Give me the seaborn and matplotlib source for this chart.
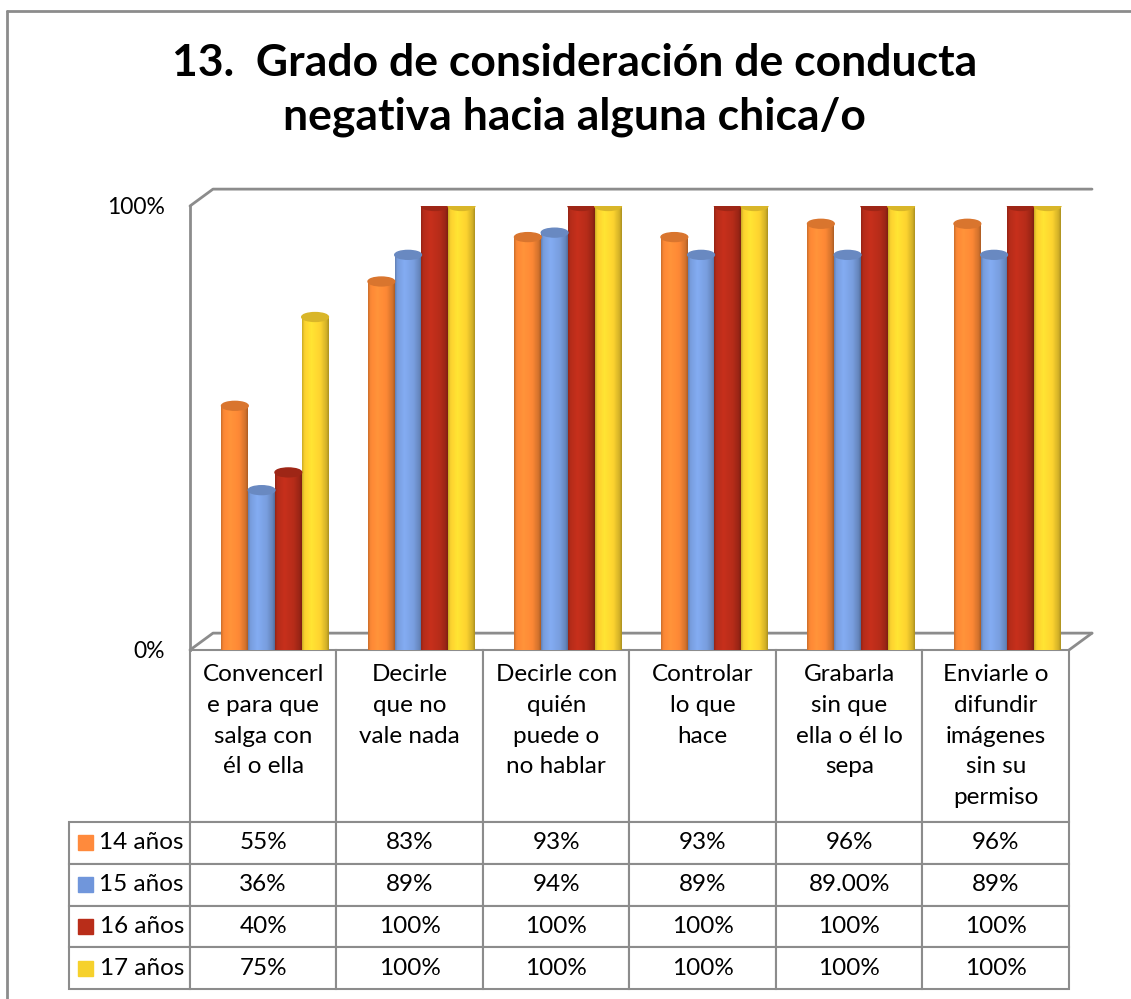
import numpy as np
import pandas as pd
import matplotlib
matplotlib.use("Agg")
import matplotlib.pyplot as plt
import seaborn as sns
from matplotlib.patches import Ellipse, Rectangle
from matplotlib.lines import Line2D
from matplotlib.table import Table

# data
categories = [
    "Convencerl\ne para que\nsalga con\nél o ella",
    "Decirle\nque no\nvale nada",
    "Decirle con\nquién\npuede o\nno hablar",
    "Controlar\nlo que\nhace",
    "Grabarla\nsin que\nella o él lo\nsepa",
    "Enviarle o\ndifundir\nimágenes\nsin su\npermiso",
]
ages = ["14 años", "15 años", "16 años", "17 años"]
v14 = [0.55, 0.83, 0.93, 0.93, 0.96, 0.96]
v15 = [0.36, 0.89, 0.94, 0.89, 0.89, 0.89]
v16 = [0.40, 1.00, 1.00, 1.00, 1.00, 1.00]
v17 = [0.75, 1.00, 1.00, 1.00, 1.00, 1.00]
t14 = ["55%", "83%", "93%", "93%", "96%", "96%"]
t15 = ["36%", "89%", "94%", "89%", "89.00%", "89%"]
t16 = ["40%", "100%", "100%", "100%", "100%", "100%"]
t17 = ["75%", "100%", "100%", "100%", "100%", "100%"]

bar_colors = ["#FF8A36", "#7BA1E3", "#BA2D1A", "#FFD630"]
key_colors = ["#FF8A3C", "#7096DB", "#B92D19", "#F6D12C"]
grey = "#8C8C8C"

sns.set_theme(style="white")
plt.rcParams["font.family"] = ["Lato", "DejaVu Sans"]
plt.rcParams["text.color"] = "black"

W, H = 1131, 999
fig = plt.figure(figsize=(W / 100, H / 100), dpi=100)
ax = fig.add_axes([190 / W, 1 - 650 / H, 879 / W, 444 / H])

df = pd.DataFrame({
    "categoria": np.tile(categories, 4),
    "edad": np.repeat(ages, 6),
    "valor": v14 + v15 + v16 + v17,
})
sns.barplot(data=df, x="categoria", y="valor", hue="edad", order=categories,
            hue_order=ages, palette=bar_colors, width=0.73, gap=0,
            saturation=1, linewidth=0, legend=False, ax=ax)

# cylinder-like shading on each bar
bars = list(ax.patches)
t = np.linspace(0, 1, 60)
prof = np.interp(t, [0, 0.08, 0.35, 0.7, 0.92, 1], [0.8, 0.97, 1.07, 0.98, 0.82, 0.68])
for b in bars:
    x0, w, h = b.get_x(), b.get_width(), b.get_height()
    col = np.array(b.get_facecolor()[:3])
    img = np.clip(col[None, None, :] * prof[None, :, None], 0, 1)
    ax.imshow(img, extent=(x0, x0 + w, 0, h), aspect="auto", zorder=2,
              interpolation="bilinear")
    ax.add_patch(Ellipse((x0 + w / 2, h), w, 0.02, color=np.clip(col * 0.85, 0, 1), zorder=3))

ax.set_xlim(-0.58, 5.42)
ax.set_ylim(0, 1)
ax.set_xlabel("")
ax.set_ylabel("")
ax.set_xticks([])
ax.set_yticks([0, 1])
ax.set_yticklabels(["0%", "100%"])
ax.tick_params(axis="y", length=0, pad=18, labelsize=16.5, labelcolor="black")
for s in ["top", "right", "bottom"]:
    ax.spines[s].set_visible(False)
ax.spines["left"].set_color(grey)
ax.spines["left"].set_linewidth(2)

# 3d box lines
dx, dy = 23 / 879, 0.038
kw = dict(transform=ax.transAxes, clip_on=False, color=grey, lw=2, zorder=0.5)
ax.plot([0, dx, 1 + dx], [1, 1 + dy, 1 + dy], **kw)
ax.plot([0, dx, 1 + dx], [0, dy, dy], **kw)
ax.plot([1, 1 + dx], [0, dy], **kw)

# data table: column 0 holds the series names
nmax = max(c.count("\n") for c in categories)
headers = [c + "\n" * (nmax - c.count("\n")) for c in categories]
rows = [t14, t15, t16, t17]
tab = Table(ax, bbox=[(69 - 190) / 879, -(989 - 650) / 444, (1069 - 69) / 879, 339 / 444])
label_w, col_w, head_h, row_h = 121, 146.5, 171, 41.5
hc = tab.add_cell(0, 0, label_w, head_h, text="")
hc.visible_edges = ""
for j, hd in enumerate(headers):
    c = tab.add_cell(0, j + 1, col_w, head_h, text=hd, loc="center")
    c.get_text().set_linespacing(1.58)
for i, (age, vals) in enumerate(zip(ages, rows)):
    c = tab.add_cell(i + 1, 0, label_w, row_h, text=age, loc="right")
    c.PAD = 0.05
    for j, v in enumerate(vals):
        tab.add_cell(i + 1, j + 1, col_w, row_h, text=v, loc="center")
tab.auto_set_font_size(False)
tab.set_fontsize(17.5)
for cell in tab.get_celld().values():
    cell.set_edgecolor(grey)
    cell.set_linewidth(1.5)
    cell.get_text().set_color("black")
ax.add_table(tab)

fig.canvas.draw()
for r in range(1, 5):
    cell = tab[(r, 0)]
    cx, cy, ch = cell.get_x(), cell.get_y(), cell.get_height()
    ax.add_patch(Rectangle((cx + 9 / 879, cy + ch / 2 - 7.5 / 444), 15 / 879, 15 / 444,
                           transform=ax.transAxes, clip_on=False, color=key_colors[r - 1],
                           zorder=5))

fig.text(0.508, 1 - 90 / H, "13.  Grado de consideración de conducta\nnegativa hacia alguna chica/o",
         ha="center", va="center", fontsize=32, fontweight="bold", linespacing=1.42,
         color="black")

fig.add_artist(Line2D([7 / W, 7 / W], [0, 1 - 11 / H], color=grey, lw=2))
fig.add_artist(Line2D([7 / W, 1], [1 - 11 / H, 1 - 11 / H], color=grey, lw=2))

fig.savefig("out.png", dpi=100)
